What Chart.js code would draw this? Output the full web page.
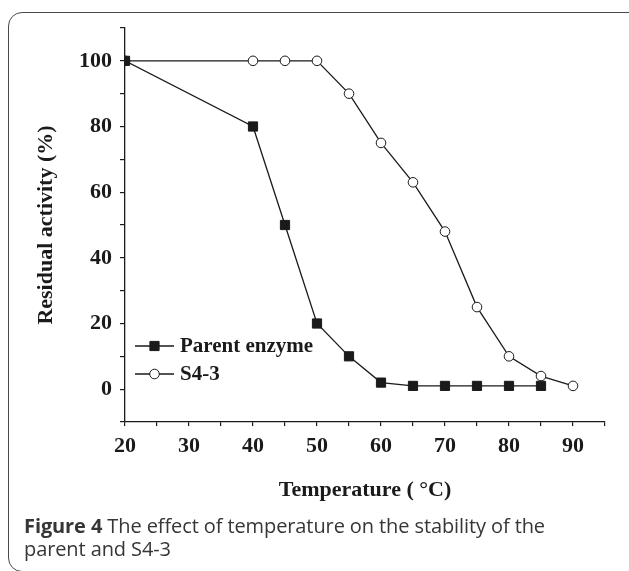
<!DOCTYPE html>
<html><head><meta charset="utf-8">
<script src="https://cdn.jsdelivr.net/npm/chart.js@4/dist/chart.umd.min.js"></script>
<style>
html,body{margin:0;padding:0;background:#fff;width:629px;height:571px;overflow:hidden;}
#frame{position:absolute;left:8px;top:12px;width:660px;height:560px;border:1.5px solid #4a4a4a;border-radius:14px;box-sizing:border-box;}
#wrap{position:absolute;left:0;top:0;width:629px;height:571px;}
#cap{position:absolute;left:24px;top:514px;width:570px;font-family:"Open Sans",sans-serif;font-size:20px;line-height:23px;color:#363636;letter-spacing:-0.1px;}
#cap b{font-weight:700;}
</style></head><body>
<div id="frame"></div>
<div id="wrap"><canvas id="c" width="629" height="571"></canvas></div>
<div id="cap"><b>Figure 4</b> The effect of temperature on the stability of the parent and S4-3</div>
<script>
const temps = [20, 40, 45, 50, 55, 60, 65, 70, 75, 80, 85, 90];
const parentEnzyme = [100, 80, 50, 20, 10, 2, 1, 1, 1, 1, 1, null];
const s43 = [100, 100, 100, 100, 90, 75, 63, 48, 25, 10, 4, 1];
const seriesNames = ["Parent enzyme", "S4-3"];
const xTickLabels = [20, 30, 40, 50, 60, 70, 80, 90];
const yTickLabels = [0, 20, 40, 60, 80, 100];
const xTitle = "Temperature ( \u00B0C)";
const yTitle = "Residual activity (%)";

const toPts = (xs, ys) => xs.map((x, i) => ({x: x, y: ys[i]})).filter(p => p.y !== null);
const serif = "'Liberation Serif','Times New Roman',serif";

const legendPlugin = {
  id: 'innerLegend',
  afterDraw(chart) {
    const ctx = chart.ctx;
    const rows = [346, 374];
    chart.data.datasets.forEach((ds, i) => {
      const y = rows[i];
      ctx.save();
      ctx.strokeStyle = ds.borderColor;
      ctx.lineWidth = ds.borderWidth;
      ctx.beginPath(); ctx.moveTo(135, y); ctx.lineTo(174, y); ctx.stroke();
      ctx.fillStyle = ds.pointBackgroundColor;
      ctx.strokeStyle = ds.pointBorderColor;
      ctx.lineWidth = 1;
      ctx.beginPath();
      if (ds.pointStyle === 'rect') { const s = Math.SQRT1_2 * ds.pointRadius; ctx.rect(154.5 - s, y - s, 2*s, 2*s); }
      else { ctx.arc(154.5, y, ds.pointRadius, 0, Math.PI*2); }
      ctx.fill(); ctx.stroke();
      ctx.fillStyle = '#1a1a1a';
      ctx.font = "bold 21px " + serif;
      ctx.textBaseline = 'middle';
      ctx.fillText(ds.label, 180, y + 1);
      ctx.restore();
    });
  }
};

new Chart(document.getElementById('c'), {
  type: 'scatter',
  data: {
    datasets: [
      {label: seriesNames[0], data: toPts(temps, parentEnzyme), showLine: true, borderColor: '#1a1a1a', borderWidth: 1.3,
       pointStyle: 'rect', pointRadius: 6.5, pointBackgroundColor: '#1a1a1a', pointBorderColor: '#1a1a1a', pointBorderWidth: 1},
      {label: seriesNames[1], data: toPts(temps, s43), showLine: true, borderColor: '#1a1a1a', borderWidth: 1.3,
       pointStyle: 'circle', pointRadius: 4.8, pointBackgroundColor: '#ffffff', pointBorderColor: '#1a1a1a', pointBorderWidth: 1}
    ]
  },
  options: {
    responsive: false, animation: false, devicePixelRatio: 1,
    layout: {padding: {left: 23, top: 28, right: 24, bottom: 49}},
    plugins: {legend: {display: false}, tooltip: {enabled: false}},
    scales: {
      x: {
        type: 'linear', min: 20, max: 95,
        afterFit(s) { s.height = 100; },
        border: {color: '#1a1a1a', width: 1.3},
        grid: {drawOnChartArea: false, drawTicks: true, tickLength: 4, color: '#1a1a1a', lineWidth: 1.2},
        ticks: {stepSize: 5, autoSkip: false, maxRotation: 0, padding: 7, color: '#1a1a1a',
          font: {family: serif, size: 22, weight: 'bold'},
          callback: v => xTickLabels.includes(v) ? String(v) : ''},
        title: {display: true, text: xTitle, color: '#1a1a1a', font: {family: serif, size: 22, weight: 'bold'}, padding: {top: 4, bottom: 18}}
      },
      y: {
        type: 'linear', min: -10, max: 110,
        afterFit(s) { s.width = 102; },
        border: {color: '#1a1a1a', width: 1.3},
        grid: {drawOnChartArea: false, drawTicks: true, tickLength: 5, color: '#1a1a1a', lineWidth: 1.2},
        ticks: {stepSize: 10, autoSkip: false, padding: 8, color: '#1a1a1a',
          font: {family: serif, size: 22, weight: 'bold'},
          callback: v => yTickLabels.includes(v) ? String(v) : ''},
        title: {display: true, text: yTitle, color: '#1a1a1a', font: {family: serif, size: 22, weight: 'bold'}, padding: {top: 10, bottom: 4}}
      }
    }
  },
  plugins: [legendPlugin]
});
</script>
</body></html>
